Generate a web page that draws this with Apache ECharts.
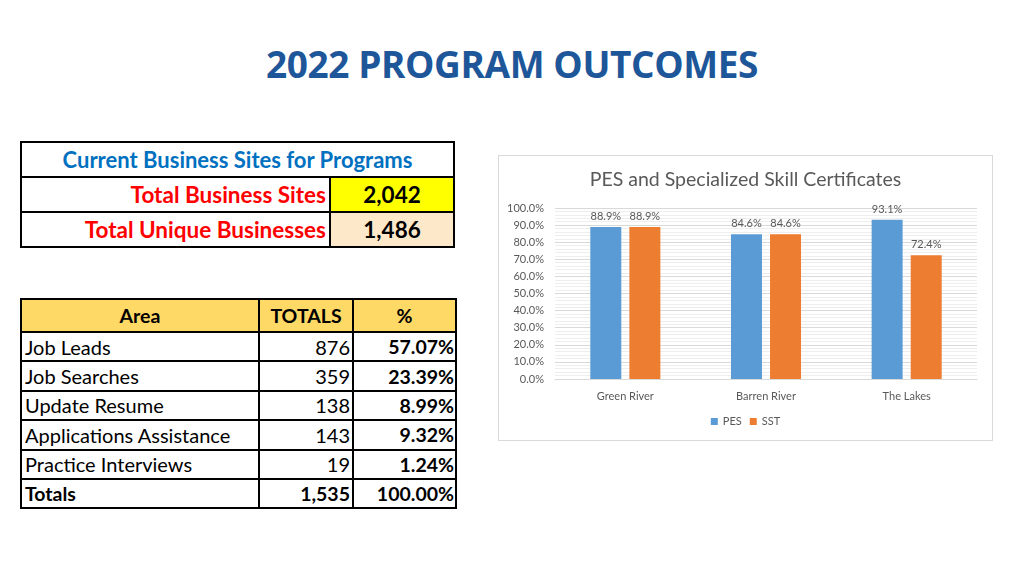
<!DOCTYPE html>
<html><head><meta charset="utf-8">
<script src="https://cdn.jsdelivr.net/npm/echarts@6/dist/echarts.min.js"></script>
<style>
html,body{margin:0;padding:0;width:1024px;height:576px;background:#fff;overflow:hidden;font-family:Lato,"Open Sans",sans-serif;}
#title{position:absolute;left:0;top:38px;width:1024px;text-align:center;font-family:"Open Sans",Lato,sans-serif;font-weight:700;font-size:37px;color:#1d5699;letter-spacing:-0.4px;}
table{position:absolute;border-collapse:collapse;}
td{border:2px solid #000;padding:0 3px;box-sizing:border-box;white-space:nowrap;}
#t1{left:20px;top:141px;width:435px;}
#t1 td{height:35px;font-weight:700;font-size:22.5px;}
#t1 .hd{color:#0070c0;text-align:center;font-size:22px;}
#t1 .lab{color:#ff0000;text-align:right;width:309px;}
#t1 .val{color:#000;text-align:center;}
#t2{left:20px;top:298px;width:437px;}
#t2 td{height:29.4px;font-size:20px;}
#t2 tr.h td{background:#ffd966;font-weight:700;text-align:center;height:33px;font-size:19.5px;}
#t2 td.n{text-align:right;padding-right:2px;}
#t2 td.p{text-align:right;font-weight:700;padding-right:1px;font-size:19.5px;}
#t2 tr.tot td{font-weight:700;font-size:19.5px;}
#chart{position:absolute;left:498px;top:155px;width:495px;height:286px;border:1px solid #d9d9d9;box-sizing:border-box;}
</style></head>
<body>
<div id="title">2022 PROGRAM OUTCOMES</div>
<table id="t1"><tbody id="t1b"></tbody></table>
<table id="t2"><tbody id="t2b"></tbody></table>
<div id="chart"></div>
<script>
const summaryLabels = ["Total Business Sites", "Total Unique Businesses"];
const summaryValues = ["2,042", "1,486"];
const areaNames = ["Job Leads", "Job Searches", "Update Resume", "Applications Assistance", "Practice Interviews"];
const areaTotals = ["876", "359", "138", "143", "19"];
const areaPercents = ["57.07%", "23.39%", "8.99%", "9.32%", "1.24%"];
const grandTotal = "1,535";
const grandPercent = "100.00%";

const categories = ["Green River", "Barren River", "The Lakes"];
const pesValues = [88.9, 84.6, 93.1];
const sstValues = [88.9, 84.6, 72.4];
const yTicks = [0, 10, 20, 30, 40, 50, 60, 70, 80, 90, 100];

// tables
const valBg = ["#ffff00", "#fde9c9"];
let h1 = '<tr><td class="hd" colspan="2">Current Business Sites for Programs</td></tr>';
summaryLabels.forEach((l, i) => {
  h1 += '<tr><td class="lab">' + l + '</td><td class="val" style="background:' + valBg[i] + '">' + summaryValues[i] + '</td></tr>';
});
document.getElementById('t1b').innerHTML = h1;

let h2 = '<tr class="h"><td style="width:238px">Area</td><td style="width:94px">TOTALS</td><td>%</td></tr>';
areaNames.forEach((a, i) => {
  h2 += '<tr><td>' + a + '</td><td class="n">' + areaTotals[i] + '</td><td class="p">' + areaPercents[i] + '</td></tr>';
});
h2 += '<tr class="tot"><td>Totals</td><td class="n">' + grandTotal + '</td><td class="p">' + grandPercent + '</td></tr>';
document.getElementById('t2b').innerHTML = h2;

// chart
const chart = echarts.init(document.getElementById('chart'));
const txt = '#595959';
const lbl = {show: true, position: 'top', color: txt, fontSize: 11, distance: 5, formatter: p => p.value.toFixed(1) + '%'};
chart.setOption({
  animation: false,
  textStyle: {fontFamily: 'Lato, "Open Sans", sans-serif'},
  title: {text: 'PES and Specialized Skill Certificates', left: 'center', top: 9,
    textStyle: {fontSize: 19.5, fontWeight: 'normal', color: txt}},
  legend: {data: ['PES', 'SST'], bottom: 8, itemWidth: 7, itemHeight: 7, itemGap: 8,
    icon: 'rect', textStyle: {color: txt, fontSize: 11}},
  grid: {left: 56, right: 15, top: 52, bottom: 61, containLabel: false},
  xAxis: {type: 'category', data: categories,
    axisLine: {lineStyle: {color: '#d9d9d9'}}, axisTick: {show: false},
    axisLabel: {color: txt, fontSize: 11, margin: 12}},
  yAxis: {type: 'value', min: yTicks[0], max: yTicks[yTicks.length - 1], interval: 10,
    axisLabel: {color: txt, fontSize: 11, formatter: v => v.toFixed(1) + '%', margin: 11},
    axisLine: {show: false}, axisTick: {show: false},
    splitLine: {lineStyle: {color: '#d9d9d9'}},
    minorTick: {show: false, splitNumber: 5},
    minorSplitLine: {show: true, lineStyle: {color: '#eeeeee'}}},
  series: [
    {name: 'PES', type: 'bar', data: pesValues, barWidth: 31, barGap: '26%',
      itemStyle: {color: '#5b9bd5'}, label: lbl},
    {name: 'SST', type: 'bar', data: sstValues, barWidth: 31,
      itemStyle: {color: '#ed7d31'}, label: lbl}
  ]
});
</script>
</body></html>
